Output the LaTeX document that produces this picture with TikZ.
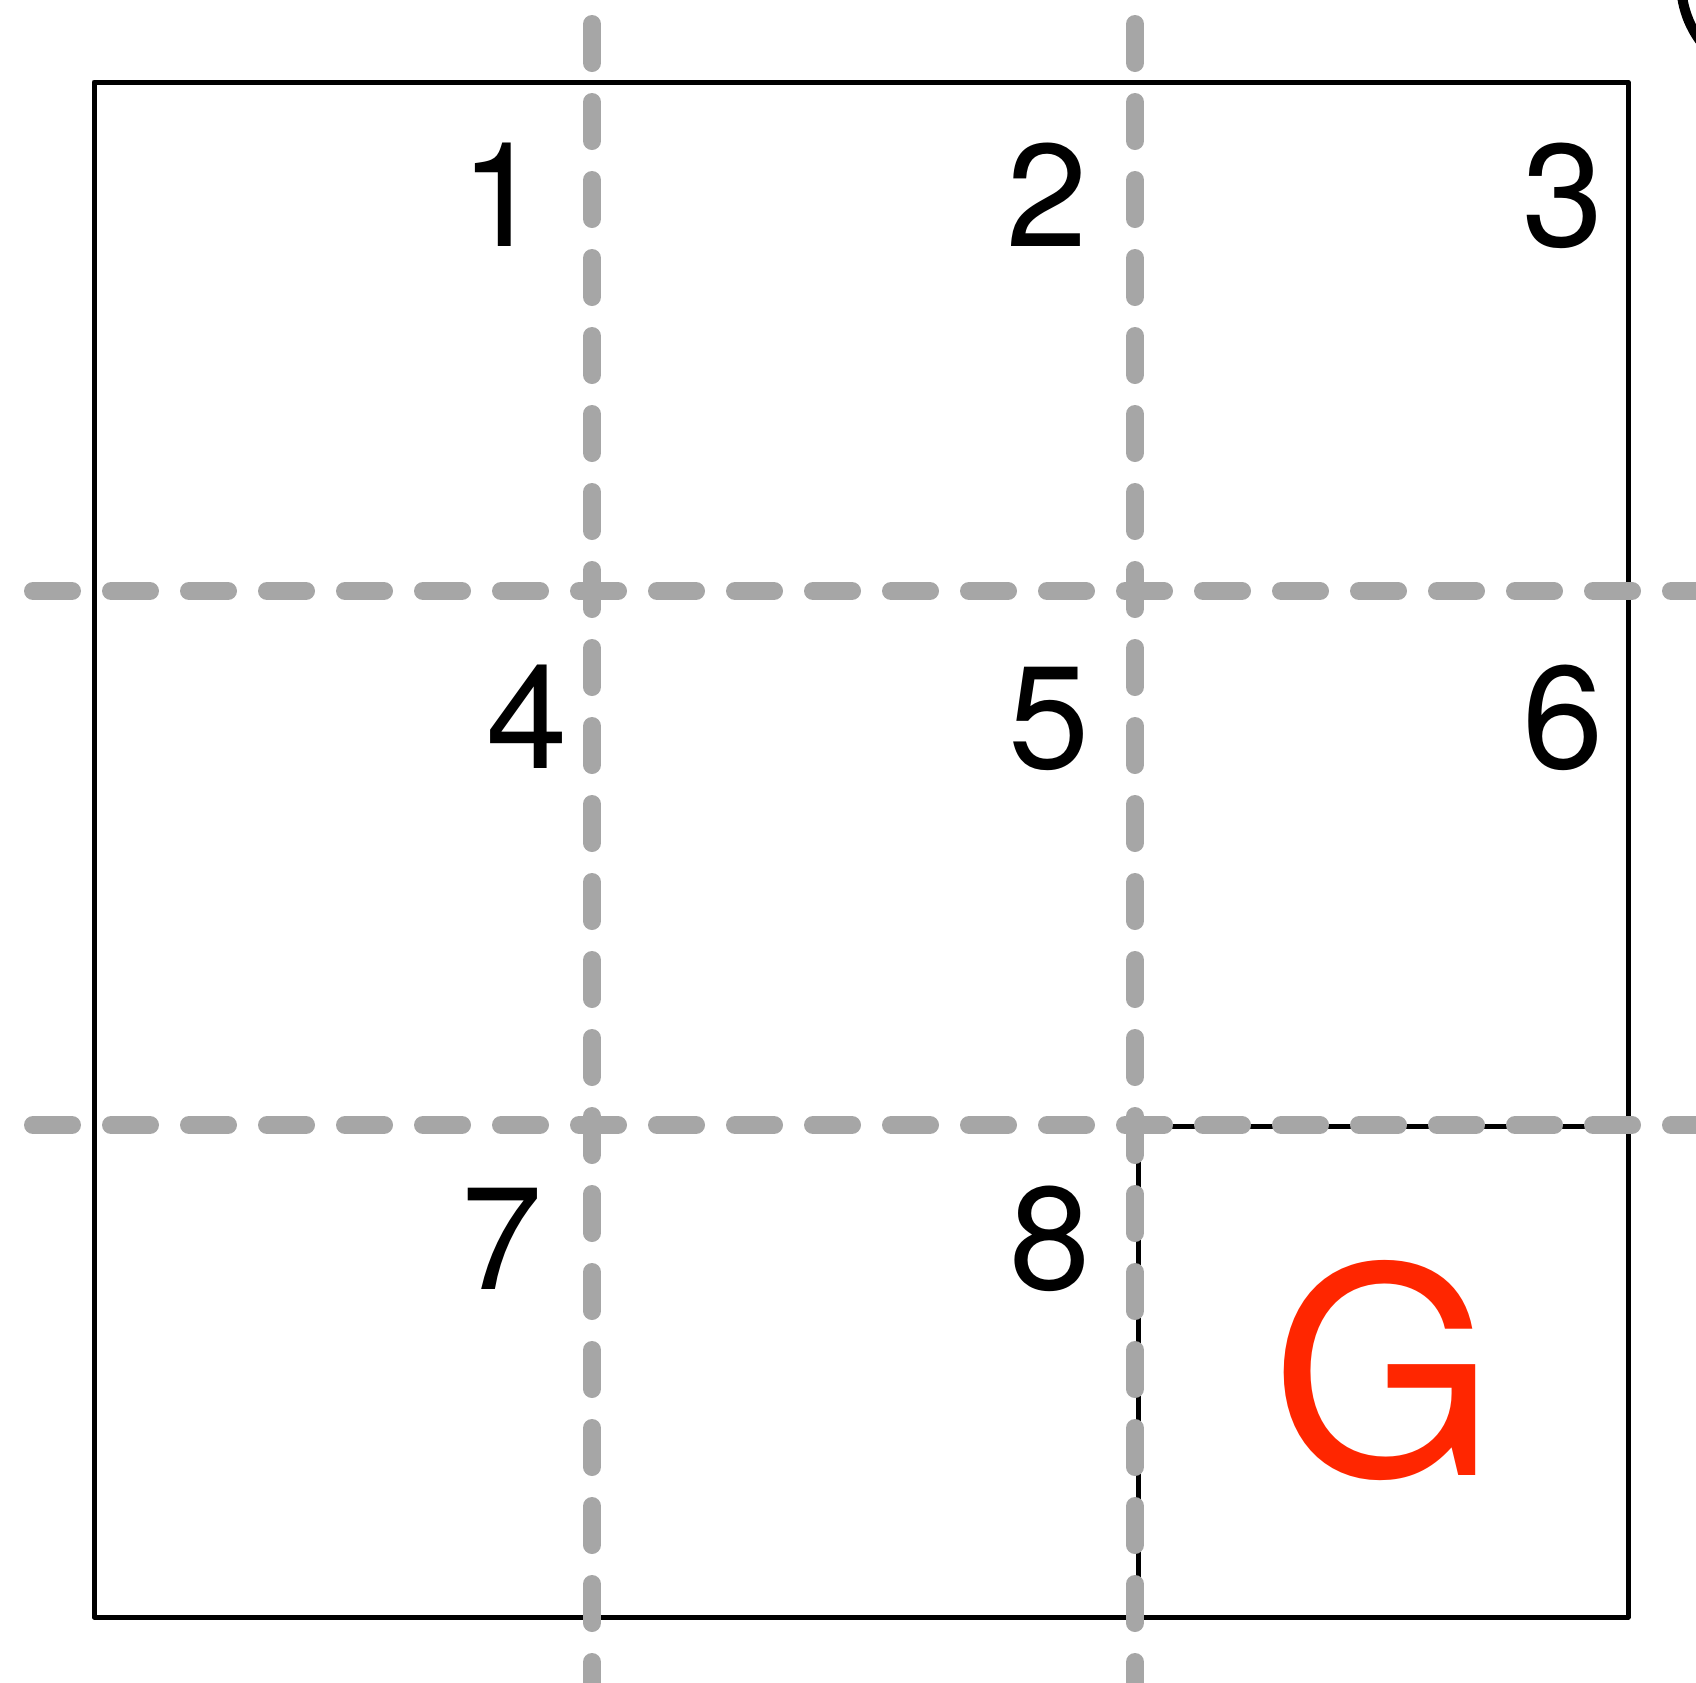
\documentclass[tikz,border=0pt]{standalone}
\usepackage{fontspec}
\setmainfont{TeX Gyre Heros}
\definecolor{guidegray}{RGB}{166,166,166}
\definecolor{goalred}{RGB}{255,38,0}
\begin{document}
\begin{tikzpicture}[x=1pt,y=-1pt,
  frame/.style={line width=5pt, line join=round},
  guide/.style={draw=guidegray, line width=18pt, line cap=round, dash pattern=on 39pt off 39pt},
  digit/.style={font=\fontsize{146}{146}\selectfont, anchor=base, inner sep=0pt},
  goal/.style={font=\fontsize{288}{288}\selectfont, anchor=base, inner sep=0pt, text=goalred}]
\useasboundingbox (0,0) rectangle (1696,1682);
\clip (0,0) rectangle (1696,1682);
% outer frame and goal cell
\draw[frame] (94,82) rectangle (1628,1617);
\draw[frame] (1138,1617) -- (1138,1126) -- (1628,1126);
% partial circle at top right
\draw[line width=10pt] (1781,-18) circle (100);
% labels
\node[digit] (n1) at (501,246) {1};
\node[digit] (n2) at (1047,246) {2};
\node[digit] (n3) at (1563,246) {3};
\node[digit] (n4) at (527,768) {4};
\node[digit] (n5) at (1049,768) {5};
\node[digit] (n6) at (1563,768) {6};
\node[digit] (n7) at (502,1289) {7};
\node[digit] (n8) at (1050,1289) {8};
\node[goal] (g) at (1384,1475) {G};
% dashed grid lines
\draw[guide] (592,24) -- (592,1720);
\draw[guide] (1135,24) -- (1135,1720);
\draw[guide] (33,591) -- (1740,591);
\draw[guide] (33,1125) -- (1740,1125);
\end{tikzpicture}
\end{document}
